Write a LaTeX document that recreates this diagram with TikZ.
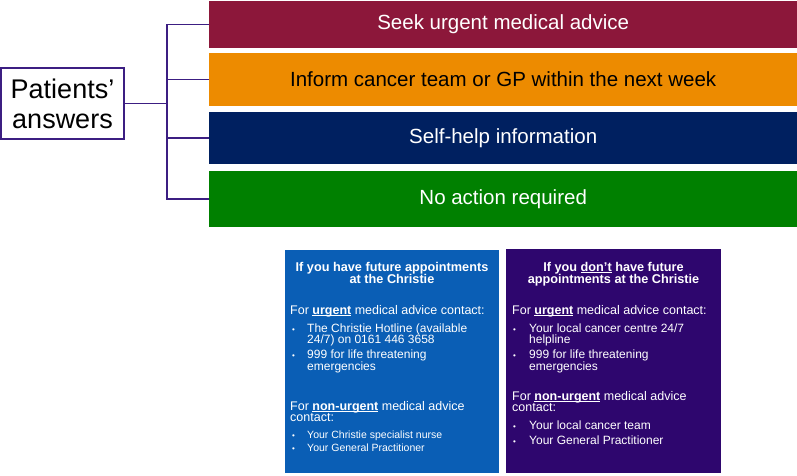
\documentclass[tikz,border=0pt]{standalone}
\usepackage{fontspec}
\setmainfont{Liberation Sans}
\definecolor{cmaroon}{RGB}{140,23,58}
\definecolor{corange}{RGB}{237,139,0}
\definecolor{cnavy}{RGB}{0,32,96}
\definecolor{cgreen}{RGB}{0,128,0}
\definecolor{cblue}{RGB}{10,94,181}
\definecolor{cpurple}{RGB}{46,6,110}
\definecolor{cline}{RGB}{60,30,130}
\newcommand\myul[1]{\setbox0\hbox{#1}\rlap{\rule[-1.3pt]{\wd0}{0.8pt}}\box0\relax}
\begin{document}
\begin{tikzpicture}[x=1pt,y=-1pt,
  bar/.style={inner sep=0pt, minimum width=588pt, anchor=west, font=\fontsize{20.5}{24}\selectfont},
  conn/.style={draw=cline, line width=1.5pt},
  panel/.style={inner sep=0pt, anchor=north west},
  ttl/.style={text=white, inner sep=0pt, anchor=base, font=\fontsize{12.7}{12}\selectfont\bfseries},
  body/.style={text=white, inner sep=0pt, anchor=base west, font=\fontsize{12.5}{12}\selectfont},
  item/.style={text=white, inner sep=0pt, anchor=base west, font=\fontsize{12}{12}\selectfont},
  smallitem/.style={text=white, inner sep=0pt, anchor=base west, font=\fontsize{10.5}{11}\selectfont},
  dot/.style={text=white, inner sep=0pt, anchor=base west, font=\fontsize{8}{8}\selectfont}]
\useasboundingbox (0,0) rectangle (797,476);

% bars
\node[bar, fill=cmaroon, minimum height=47pt, text=white] (b1) at (209,24.5) {Seek urgent medical advice};
\node[bar, fill=corange, minimum height=53pt, text=black] (b2) at (209,79.5) {Inform cancer team or GP within the next week};
\node[bar, fill=cnavy, minimum height=52pt, text=white] (b3) at (209,138) {Self-help information};
\node[bar, fill=cgreen, minimum height=56pt, text=white] (b4) at (209,199) {No action required};

% patients box
\node[draw=cline, line width=1.5pt, fill=white, minimum width=123pt, minimum height=71pt, inner sep=0pt,
      align=center, font=\fontsize{27}{30}\selectfont] (pa) at (62.5,103.5) {Patients’\\answers};

% connectors
\coordinate (j) at (167,103.5);
\draw[conn] (b1.west) -| (j) |- (b4.west);
\draw[conn] (b2.west) -| (j);
\draw[conn] (b3.west) -| (j);
\draw[conn] (pa.east) -- (j);

% panels
\node[panel, fill=cblue, minimum width=214pt, minimum height=223pt] (p1) at (285,250) {};
\node[panel, fill=cpurple, minimum width=215pt, minimum height=224pt] (p2) at (506,249) {};

% blue panel text
\node[ttl] (t1a) at (392,271.5) {If you have future appointments};
\node[ttl] (t1b) at (392,283.5) {at the Christie};
\node[body] (u1) at (290,314.5) {For \myul{\textbf{urgent}} medical advice contact:};
\node[dot] (d1) at (292,332.3) {•};
\node[item] (i1a) at (307,332.3) {The Christie Hotline (available};
\node[item] (i1b) at (307,343.5) {24/7) on 0161 446 3658};
\node[dot] (d2) at (292,358.3) {•};
\node[item] (i2a) at (307,358.3) {999 for life threatening};
\node[item] (i2b) at (307,370) {emergencies};
\node[body] (n1a) at (290,410.5) {For \myul{\textbf{non-urgent}} medical advice};
\node[body] (n1b) at (290,421.5) {contact:};
\node[dot] (d3) at (292,438.8) {•};
\node[smallitem] (s1) at (307,438.8) {Your Christie specialist nurse};
\node[dot] (d4) at (292,451.8) {•};
\node[smallitem] (s2) at (307,451.8) {Your General Practitioner};

% purple panel text
\node[ttl] (t2a) at (613.5,271.5) {If you \myul{don't} have future};
\node[ttl] (t2b) at (613.5,283.5) {appointments at the Christie};
\node[body] (u2) at (512,314.5) {For \myul{\textbf{urgent}} medical advice contact:};
\node[dot] (e1) at (513,332.3) {•};
\node[item] (j1a) at (529,332.3) {Your local cancer centre 24/7};
\node[item] (j1b) at (529,343.5) {helpline};
\node[dot] (e2) at (513,358.3) {•};
\node[item] (j2a) at (529,358.3) {999 for life threatening};
\node[item] (j2b) at (529,370) {emergencies};
\node[body] (n2a) at (512,400.5) {For \myul{\textbf{non-urgent}} medical advice};
\node[body] (n2b) at (512,411.5) {contact:};
\node[dot] (e3) at (513,429.3) {•};
\node[item] (k1) at (529,429.3) {Your local cancer team};
\node[dot] (e4) at (513,444.3) {•};
\node[item] (k2) at (529,444.3) {Your General Practitioner};
\end{tikzpicture}
\end{document}
